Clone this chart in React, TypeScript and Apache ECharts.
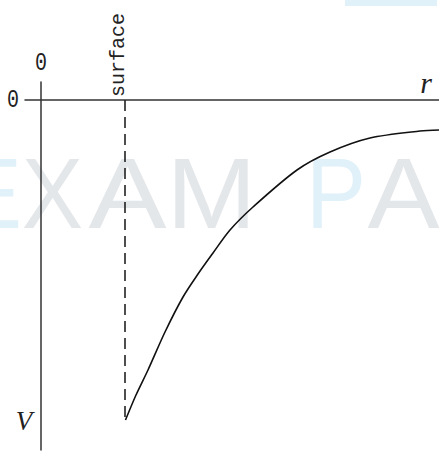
import React, { useEffect, useRef } from "react";
import * as echarts from "echarts";

// Potential curve V(r), outside the surface
const curveR = [8.45, 9.5, 10.7, 12.4, 14.2, 15.7, 17.2, 18.9, 21.2, 25.6, 28.9, 32.9, 37.9, 39.8];
const curveV = [-32, -29.5, -27, -23.2, -19.7, -17.4, -15.3, -13, -10.7, -7, -5.2, -3.8, -3.1, -3.0];
const surfaceR = 8.4;
const surfaceV = -32;
const axisLabels = { origin: "0", surface: "surface", r: "r", V: "V" };
const watermark = ["E", "X", "A", "M", "P", "A"];

export default function App() {
  const ref = useRef<HTMLDivElement>(null);
  useEffect(() => {
    if (!ref.current) return;
    const chart = echarts.init(ref.current, null, { renderer: "svg" });
    const gray = "#e4e7ea";
    const blue = "#e1f1f9";
    const wmX = [-11, 52.5, 127.5, 211.5, 336, 403.5];
    const wmScale = [1, 0.92, 1.17, 1.08, 0.9, 1.08];
    const wmColor = [blue, gray, gray, gray, blue, gray];
    const wm = watermark.map((ch, i) => ({
      type: "text",
      x: wmX[i],
      y: 193,
      z: -10,
      scaleX: wmScale[i],
      silent: true,
      style: {
        text: ch,
        fill: wmColor[i],
        font: "100px 'Liberation Sans'",
        align: "center",
        verticalAlign: "middle",
      },
    }));
    chart.setOption({
      animation: false,
      grid: { left: 25, right: 0, top: 82, bottom: 5 },
      xAxis: {
        type: "value",
        min: -1.6,
        max: 39.8,
        axisLine: { show: true, onZero: true, lineStyle: { color: "#333", width: 1.5 } },
        axisTick: { show: false },
        axisLabel: { show: false },
        splitLine: { show: false },
      },
      yAxis: {
        type: "value",
        min: -35,
        max: 1.8,
        axisLine: { show: true, onZero: true, lineStyle: { color: "#333", width: 1.5 } },
        axisTick: { show: false },
        axisLabel: { show: false },
        splitLine: { show: false },
      },
      graphic: [
        { type: "rect", z: -10, silent: true, shape: { x: 345, y: 0, width: 92, height: 6 }, style: { fill: blue } },
        ...wm,
        {
          type: "text", x: 41, y: 63,
          style: { text: axisLabels.origin, font: "20px 'Liberation Mono'", fill: "#222", align: "center", verticalAlign: "middle" },
          scaleY: 1.3,
        },
        {
          type: "text", x: 13, y: 100,
          style: { text: axisLabels.origin, font: "20px 'Liberation Mono'", fill: "#222", align: "center", verticalAlign: "middle" },
          scaleY: 1.3,
        },
        {
          type: "text", x: 118, y: 55, rotation: Math.PI / 2,
          style: { text: axisLabels.surface, font: "20px 'Liberation Mono'", fill: "#222", align: "center", verticalAlign: "middle" },
        },
        {
          type: "text", x: 426, y: 82,
          style: { text: axisLabels.r, font: "italic 30px 'Liberation Serif'", fill: "#222", align: "center", verticalAlign: "middle" },
        },
        {
          type: "text", x: 24, y: 421,
          style: { text: axisLabels.V, font: "italic 27px 'Liberation Serif'", fill: "#222", align: "center", verticalAlign: "middle" },
        },
      ],
      series: [
        {
          type: "line",
          data: curveR.map((r, i) => [r, curveV[i]]),
          smooth: 0.3,
          showSymbol: false,
          lineStyle: { color: "#111", width: 1.6 },
          markLine: {
            silent: true,
            symbol: ["none", "none"],
            label: { show: false },
            lineStyle: { color: "#222", width: 1.6, type: [11, 6] },
            data: [[{ coord: [surfaceR, 0] }, { coord: [surfaceR, surfaceV] }]],
          },
        },
      ],
    });
    return () => chart.dispose();
  }, []);
  return <div ref={ref} style={{ position: "absolute", left: 0, top: 0, width: 439, height: 455 }} />;
}
